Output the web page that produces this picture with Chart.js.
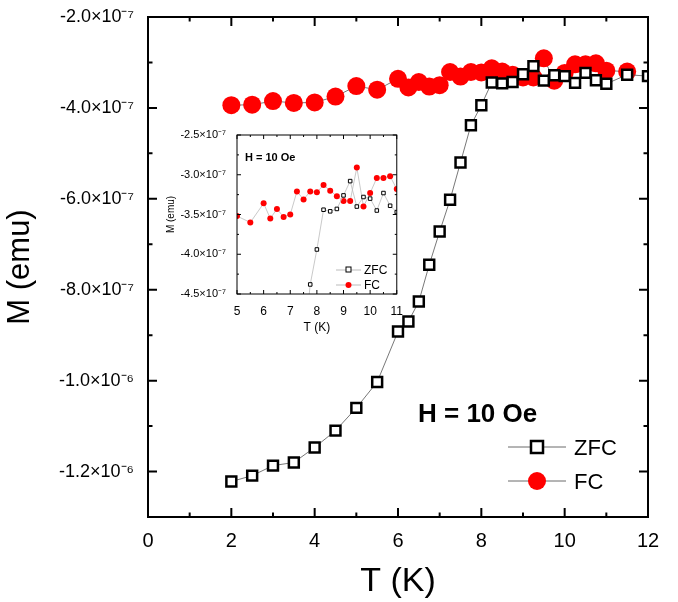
<!DOCTYPE html>
<html><head><meta charset="utf-8">
<script src="https://cdn.jsdelivr.net/npm/chart.js@4/dist/chart.umd.min.js"></script>
<style>
body{margin:0;background:#fff;}
#wrap{position:relative;width:678px;height:602px;}
#main{position:absolute;left:0;top:0;}
#inset{position:absolute;left:165px;top:125px;}
</style></head>
<body><div id="wrap"><canvas id="main" width="678" height="602"></canvas><canvas id="inset" width="240" height="210"></canvas></div>
<script>
const tempZfc = [2, 2.5, 3, 3.5, 4, 4.5, 5, 5.5, 6, 6.25, 6.5, 6.75, 7, 7.25, 7.5, 7.75, 8, 8.25, 8.5, 8.75, 9, 9.25, 9.5, 9.75, 10, 10.25, 10.5, 10.75, 11, 11.5, 12];
const mZfc = [-1.222e-6, -1.209e-6, -1.187e-6, -1.18e-6, -1.147e-6, -1.11e-6, -1.06e-6, -1.003e-6, -8.92e-7, -8.7e-7, -8.26e-7, -7.45e-7, -6.72e-7, -6.02e-7, -5.2e-7, -4.38e-7, -3.94e-7, -3.44e-7, -3.46e-7, -3.43e-7, -3.26e-7, -3.08e-7, -3.4e-7, -3.28e-7, -3.3e-7, -3.45e-7, -3.23e-7, -3.39e-7, -3.47e-7, -3.27e-7, -3.3e-7];
const tempFc = [2, 2.5, 3, 3.5, 4, 4.5, 5, 5.5, 6, 6.25, 6.5, 6.75, 7, 7.25, 7.5, 7.75, 8, 8.25, 8.5, 8.75, 9, 9.25, 9.5, 9.75, 10, 10.25, 10.5, 10.75, 11, 11.5];
const mFc = [-3.94e-7, -3.93e-7, -3.85e-7, -3.89e-7, -3.88e-7, -3.75e-7, -3.52e-7, -3.6e-7, -3.36e-7, -3.55e-7, -3.43e-7, -3.53e-7, -3.5e-7, -3.21e-7, -3.31e-7, -3.21e-7, -3.22e-7, -3.13e-7, -3.2e-7, -3.27e-7, -3.33e-7, -3.33e-7, -2.91e-7, -3.4e-7, -3.23e-7, -3.04e-7, -3.04e-7, -3.02e-7, -3.18e-7, -3.2e-7];
const mainYTicks = [-1.2e-6, -1.0e-6, -8e-7, -6e-7, -4e-7, -2e-7];
const insetYTicks = [-4.5e-7, -4.0e-7, -3.5e-7, -3.0e-7, -2.5e-7];

const FONT = 'Liberation Sans, Arial, sans-serif';
const sup = {'-':'⁻','0':'⁰','1':'¹','2':'²','3':'³','4':'⁴','5':'⁵','6':'⁶','7':'⁷','8':'⁸','9':'⁹'};
function sci(v) {
  const e = Math.floor(Math.log10(Math.abs(v)) + 1e-9);
  const m = v / Math.pow(10, e);
  return m.toFixed(1) + '×10' + String(e).split('').map(c => sup[c]).join('');
}
function pts(xs, ys) { return xs.map((x, i) => ({x: x, y: ys[i]})); }

// inward ticks on all four sides
function tickPlugin(xMaj, xMin, yMaj, yMin, len) {
  return {
    id: 'inTicks',
    afterDraw(chart) {
      const c = chart.ctx, a = chart.chartArea, sx = chart.scales.x, sy = chart.scales.y;
      c.save();
      c.strokeStyle = '#000';
      c.lineWidth = len > 6 ? 2 : 1;
      c.strokeRect(a.left, a.top, a.right - a.left, a.bottom - a.top);
      c.beginPath();
      for (let v = sx.min; v <= sx.max + 1e-9; v += xMin) {
        const maj = Math.abs(Math.round(v / xMaj) * xMaj - v) < 1e-9;
        const l = maj ? len : len / 2, p = sx.getPixelForValue(v);
        c.moveTo(p, a.bottom); c.lineTo(p, a.bottom - l);
        c.moveTo(p, a.top); c.lineTo(p, a.top + l);
      }
      for (let v = sy.min; v <= sy.max + 1e-20; v += yMin) {
        const maj = Math.abs(Math.round(v / yMaj) * yMaj - v) < yMin * 1e-3;
        const l = maj ? len : len / 2, p = sy.getPixelForValue(v);
        c.moveTo(a.left, p); c.lineTo(a.left + l, p);
        c.moveTo(a.right, p); c.lineTo(a.right - l, p);
      }
      c.stroke();
      c.restore();
    }
  };
}

const legendPlugin = {
  id: 'legendTxt',
  afterDraw(chart) {
    const c = chart.ctx;
    c.save();
    c.fillStyle = '#000';
    c.font = 'bold 26px ' + FONT;
    c.fillText('H = 10 Oe', 418, 422);
    c.font = '22px ' + FONT;
    c.strokeStyle = '#444'; c.lineWidth = 0.8;
    c.beginPath(); c.moveTo(508, 447); c.lineTo(566, 447); c.moveTo(508, 481); c.lineTo(566, 481); c.stroke();
    c.fillStyle = '#fff'; c.strokeStyle = '#000'; c.lineWidth = 2.5;
    c.fillRect(531, 441, 12, 12); c.strokeRect(531, 441, 12, 12);
    c.fillStyle = '#f00';
    c.beginPath(); c.arc(537, 481, 9, 0, Math.PI * 2); c.fill();
    c.fillStyle = '#000';
    c.fillText('ZFC', 574, 455);
    c.fillText('FC', 574, 489);
    c.restore();
  }
};

new Chart(document.getElementById('main'), {
  type: 'scatter',
  data: {
    datasets: [{
      label: 'ZFC', data: pts(tempZfc, mZfc), showLine: true,
      borderColor: '#555', borderWidth: 0.8,
      pointStyle: 'rect', pointRadius: 7, pointBorderWidth: 2.5,
      pointBackgroundColor: '#fff', pointBorderColor: '#000'
    }, {
      label: 'FC', data: pts(tempFc, mFc), showLine: true,
      borderColor: '#555', borderWidth: 0.8,
      pointStyle: 'circle', pointRadius: 9, pointBorderWidth: 0,
      pointBackgroundColor: '#f00'
    }]
  },
  options: {
    responsive: false, animation: false,
    layout: { padding: { top: 17, right: 30, left: 0, bottom: 0 } },
    plugins: { legend: { display: false }, tooltip: { enabled: false } },
    scales: {
      x: {
        type: 'linear', min: 0, max: 12,
        grid: { display: false }, border: { display: false },
        ticks: { stepSize: 2, color: '#000', font: { family: FONT, size: 20 }, padding: 4 },
        title: { display: true, text: 'T (K)', color: '#000', font: { family: FONT, size: 34 }, padding: 0 },
        afterFit: s => { s.height = 85; }
      },
      y: {
        min: -1.3e-6, max: -2e-7,
        grid: { display: false }, border: { display: false },
        afterBuildTicks: s => { s.ticks = mainYTicks.map(v => ({value: v})); },
        ticks: { color: '#000', font: { family: FONT, size: 18 }, padding: 6, callback: v => sci(v) },
        title: { display: true, text: 'M (emu)', color: '#000', font: { family: FONT, size: 31 }, padding: 2 },
        afterFit: s => { s.width = 148; }
      }
    }
  },
  plugins: [tickPlugin(2, 1, 2e-7, 1e-7, 9), legendPlugin]
});

const insetLegend = {
  id: 'insetLegend',
  afterDraw(chart) {
    const c = chart.ctx;
    c.save();
    c.fillStyle = '#000';
    c.font = 'bold 11px ' + FONT;
    c.fillText('H = 10 Oe', 80, 36);
    c.font = '12px ' + FONT;
    c.strokeStyle = '#aaa'; c.lineWidth = 0.8;
    c.beginPath(); c.moveTo(171, 145); c.lineTo(196, 145); c.moveTo(171, 160); c.lineTo(196, 160); c.stroke();
    c.fillStyle = '#fff'; c.strokeStyle = '#000'; c.lineWidth = 1;
    c.fillRect(181, 142, 5, 5); c.strokeRect(181, 142, 5, 5);
    c.fillStyle = '#f00';
    c.beginPath(); c.arc(183.5, 160, 3, 0, Math.PI * 2); c.fill();
    c.fillStyle = '#000';
    c.fillText('ZFC', 199, 149);
    c.fillText('FC', 199, 164);
    c.restore();
  }
};

new Chart(document.getElementById('inset'), {
  type: 'scatter',
  data: {
    datasets: [{
      data: pts(tempZfc, mZfc), showLine: true,
      borderColor: '#bbb', borderWidth: 0.8,
      pointStyle: 'rect', pointRadius: 2.5, pointBorderWidth: 1,
      pointBackgroundColor: '#fff', pointBorderColor: '#000'
    }, {
      data: pts(tempFc, mFc), showLine: true,
      borderColor: '#bbb', borderWidth: 0.8,
      pointStyle: 'circle', pointRadius: 3, pointBorderWidth: 0,
      pointBackgroundColor: '#f00'
    }]
  },
  options: {
    responsive: false, animation: false,
    clip: 0,
    layout: { padding: { top: 10, right: 8, left: 0, bottom: 0 } },
    plugins: { legend: { display: false }, tooltip: { enabled: false } },
    scales: {
      x: {
        type: 'linear', min: 5, max: 11,
        grid: { display: false }, border: { display: false },
        ticks: { stepSize: 1, color: '#000', font: { family: FONT, size: 12 }, padding: 2 },
        title: { display: true, text: 'T (K)', color: '#000', font: { family: FONT, size: 12 }, padding: 0 },
        afterFit: s => { s.height = 41; }
      },
      y: {
        min: -4.5e-7, max: -2.5e-7,
        grid: { display: false }, border: { display: false },
        afterBuildTicks: s => { s.ticks = insetYTicks.map(v => ({value: v})); },
        ticks: { color: '#000', font: { family: FONT, size: 11 }, padding: 3, callback: v => sci(v) },
        title: { display: true, text: 'M (emu)', color: '#000', font: { family: FONT, size: 10 }, padding: 0 },
        afterFit: s => { s.width = 72; }
      }
    }
  },
  plugins: [tickPlugin(1, 0.5, 5e-8, 2.5e-8, 4), insetLegend]
});
</script></body></html>
